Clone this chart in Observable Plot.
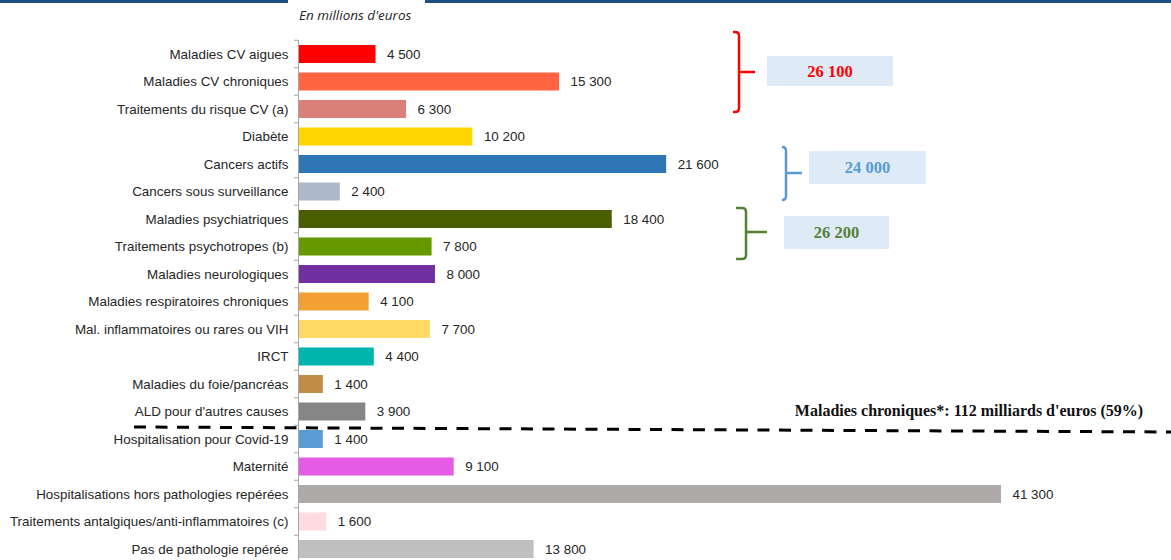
<!DOCTYPE html>
<html>
<head>
<meta charset="utf-8">
<script src="https://cdn.jsdelivr.net/npm/d3@7"></script>
<script src="https://cdn.jsdelivr.net/npm/@observablehq/plot@0.6"></script>
<style>
  html, body { margin: 0; padding: 0; background: #fff; }
  #chart { width: 1171px; height: 560px; overflow: hidden; }
</style>
</head>
<body>
<div id="chart"></div>
<script>
const categories = [
  "Maladies CV aigues",
  "Maladies CV chroniques",
  "Traitements du risque CV (a)",
  "Diabète",
  "Cancers actifs",
  "Cancers sous surveillance",
  "Maladies psychiatriques",
  "Traitements psychotropes (b)",
  "Maladies neurologiques",
  "Maladies respiratoires chroniques",
  "Mal. inflammatoires ou rares ou VIH",
  "IRCT",
  "Maladies du foie/pancréas",
  "ALD pour d'autres causes",
  "Hospitalisation pour Covid-19",
  "Maternité",
  "Hospitalisations hors pathologies repérées",
  "Traitements antalgiques/anti-inflammatoires (c)",
  "Pas de pathologie repérée"
];
const values = [4500, 15300, 6300, 10200, 21600, 2400, 18400, 7800, 8000, 4100, 7700, 4400, 1400, 3900, 1400, 9100, 41300, 1600, 13800];
const barColors = ["#FF0000", "#FF6541", "#DA8078", "#FFD600", "#2E75B6", "#ADB9CA", "#485E00", "#669900", "#7030A0", "#F3A032", "#FFD966", "#00B5AD", "#BF8C45", "#868686", "#5B9BD5", "#E55BE5", "#AEAAAA", "#FFDAE0", "#BFBFBF"];

const groupNames = ["Maladies cardio-vasculaires", "Cancers", "Santé mentale"];
const groupTotals = ["26 100", "24 000", "26 200"];
const groupColors = ["#FF0000", "#5B9BD5", "#548235"];

const subtitle = "En millions d'euros";
const chronicNote = "Maladies chroniques*: 112 milliards d'euros (59%)";

const data = categories.map((c, i) => ({category: c, value: values[i], color: barColors[i]}));
const fmt = v => d3.format(",")(v).replace(/,/g, "\u00a0");

const plot = Plot.plot({
  width: 1171,
  height: 560,
  marginLeft: 299,
  marginRight: 170,
  marginTop: 40,
  marginBottom: 0,
  x: {domain: [0, 41300], axis: null},
  y: {domain: categories, range: [40.25, 562.75], round: false, paddingInner: 0.345, paddingOuter: 0.1725, label: null},
  color: {type: "identity"},
  style: {fontFamily: "'Liberation Sans', Arial, sans-serif", fontSize: "13.4px", color: "#262626", background: "white", overflow: "hidden"},
  marks: [
    Plot.barX(data, {x: "value", y: "category", fill: "color"}),
    Plot.text(data, {x: "value", y: "category", text: d => fmt(d.value), textAnchor: "start", dx: 11, fill: "#262626"}),
    Plot.ruleX([0], {stroke: "#A6A6A6", dx: -1}),
    Plot.axisY({tickSize: 0, tickPadding: 11, fill: "#262626"})
  ]
});
document.getElementById("chart").appendChild(plot);

const svg = d3.select(plot);
const ys = plot.scale("y");
const step = ys.step, bw = ys.bandwidth;
const boundary = i => i < categories.length
  ? ys.apply(categories[i]) - (step - bw) / 2
  : ys.apply(categories[categories.length - 1]) + bw + (step - bw) / 2;

const ann = svg.append("g").attr("text-anchor", "start");
// boundary ticks on the category axis
for (let i = 0; i <= categories.length; i++) {
  const yy = boundary(i);
  ann.append("line").attr("x1", 294).attr("x2", 298).attr("y1", yy).attr("y2", yy)
    .attr("stroke", "#A6A6A6").attr("stroke-width", 1);
}

// top banner strip
ann.append("rect").attr("x", 0).attr("y", 0).attr("width", 288).attr("height", 3).attr("fill", "#1F4E84");
ann.append("rect").attr("x", 425).attr("y", 0).attr("width", 746).attr("height", 3).attr("fill", "#1F4E84");

// subtitle
ann.append("text").attr("x", 299).attr("y", 20).attr("text-anchor", "start")
  .attr("font-family", "'Open Sans', Lato, sans-serif").attr("font-style", "italic")
  .attr("font-size", "13.5px").attr("fill", "#262626").text(subtitle);

// brackets + total boxes
const brackets = [
  {x: 739, cap: 6, y1: 32, y2: 112, ym: 72, tick: 755, box: [767, 56, 126, 30]},
  {x: 786, cap: 4, y1: 147, y2: 200, ym: 173, tick: 802, box: [809, 151, 117, 33]},
  {x: 746, cap: 10, y1: 208, y2: 259, ym: 232, tick: 767, box: [784, 216, 105, 33]}
];
brackets.forEach((b, i) => {
  const r = Math.min(4, b.cap);
  const p = `M${b.x - b.cap},${b.y1} L${b.x - r},${b.y1} Q${b.x},${b.y1} ${b.x},${b.y1 + r} L${b.x},${b.y2 - r} Q${b.x},${b.y2} ${b.x - r},${b.y2} L${b.x - b.cap},${b.y2} M${b.x},${b.ym} L${b.tick},${b.ym}`;
  ann.append("path").attr("d", p).attr("fill", "none").attr("stroke", groupColors[i]).attr("stroke-width", 2.5);
  const [bx, by, bwid, bh] = b.box;
  ann.append("rect").attr("x", bx).attr("y", by).attr("width", bwid).attr("height", bh).attr("fill", "#DEEAF6");
  ann.append("text").attr("x", bx + bwid / 2).attr("y", by + bh / 2).attr("dy", "0.35em")
    .attr("text-anchor", "middle").attr("font-family", "'Liberation Serif', 'Times New Roman', serif")
    .attr("font-weight", "bold").attr("font-size", "16.5px").attr("fill", groupColors[i]).text(groupTotals[i]);
});

// chronic diseases separator
ann.append("line").attr("x1", 134).attr("y1", 427).attr("x2", 1171).attr("y2", 432)
  .attr("stroke", "#000").attr("stroke-width", 3).attr("stroke-dasharray", "12,9.5");
ann.append("text").attr("x", 969).attr("y", 416).attr("text-anchor", "middle")
  .attr("font-family", "'Liberation Serif', 'Times New Roman', serif").attr("font-weight", "bold")
  .attr("font-size", "16px").attr("fill", "#111").text(chronicNote);
</script>
</body>
</html>
